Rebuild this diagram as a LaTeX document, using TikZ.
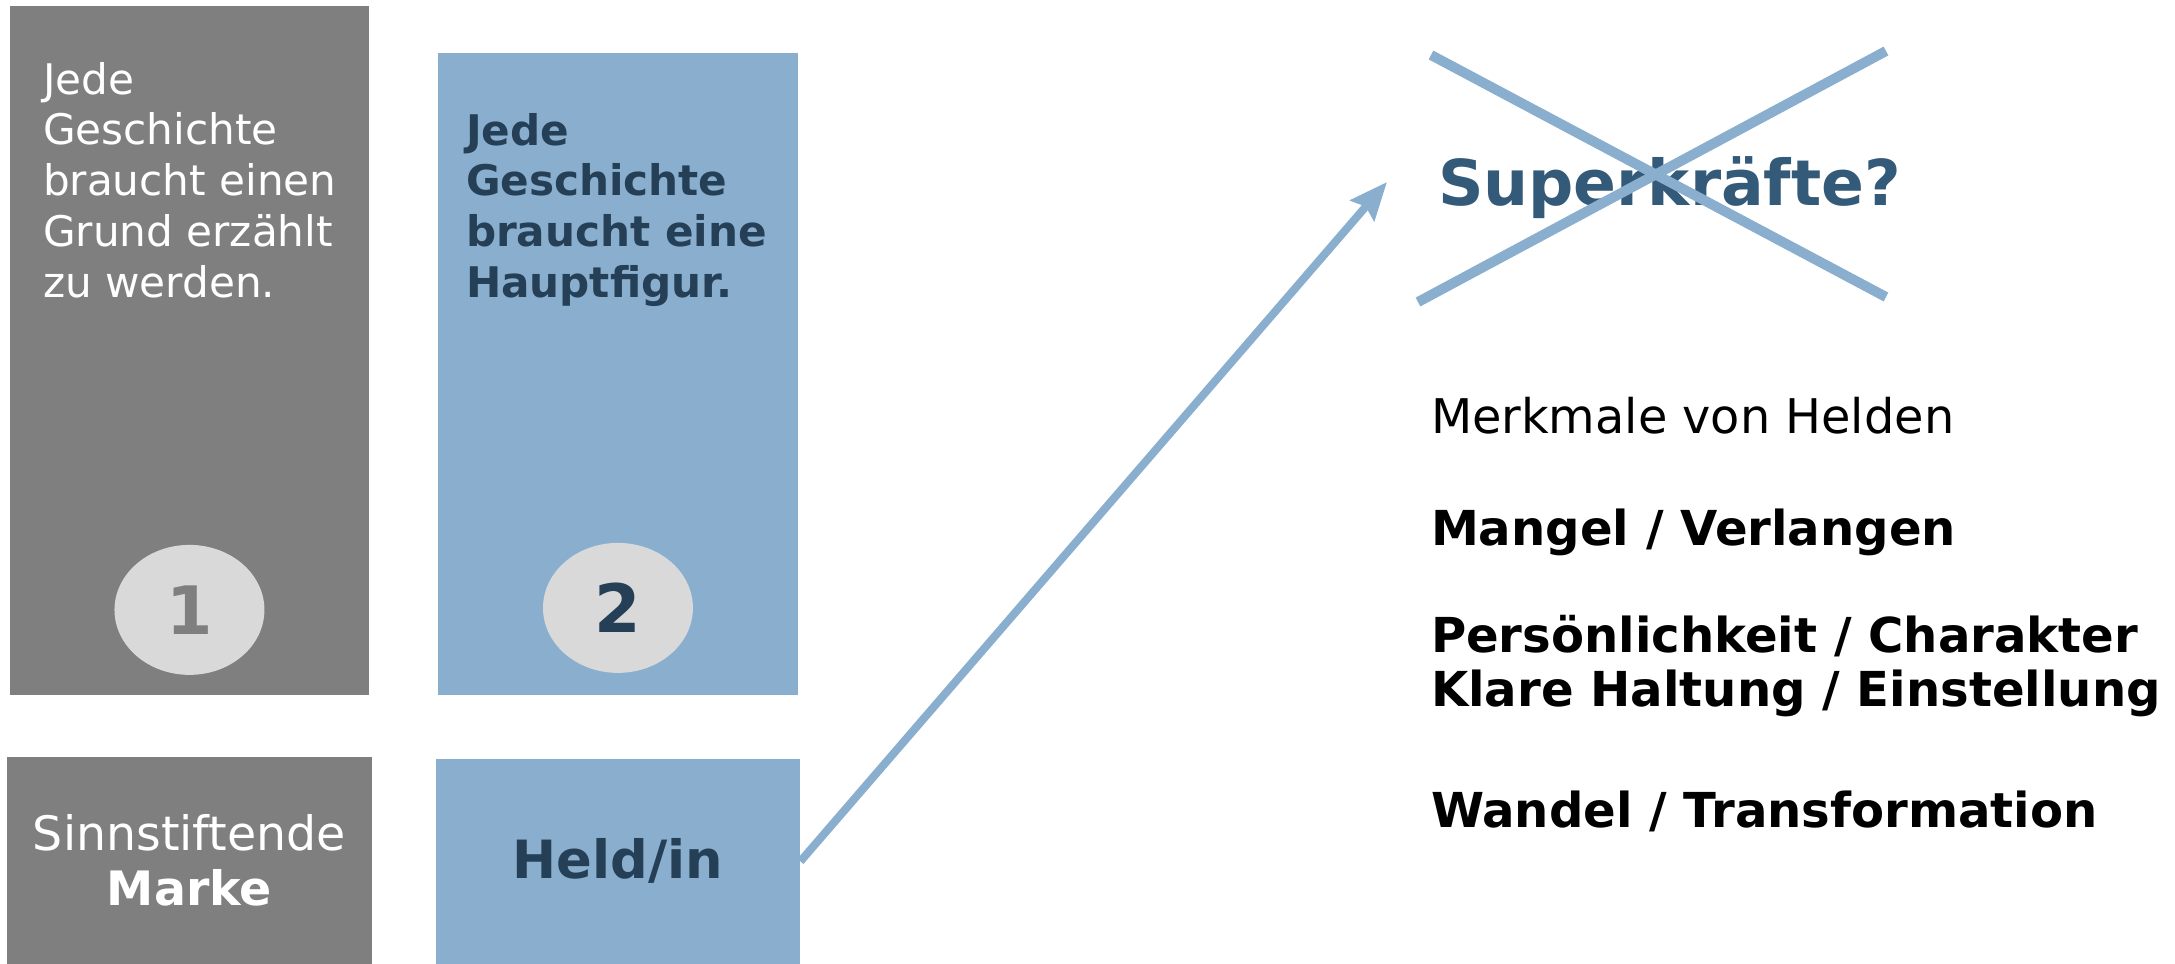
\documentclass[tikz,border=0pt]{standalone}
\usepackage{fontspec}
\setmainfont{DejaVu Sans}
\usepackage{tikz}
\usetikzlibrary{positioning, shapes.geometric, arrows.meta}

\definecolor{boxgray}{HTML}{7F7F7F}
\definecolor{boxblue}{HTML}{8AAFCE}
\definecolor{circgray}{HTML}{D9D9D9}
\definecolor{textblue}{HTML}{243F56}
\definecolor{superblue}{HTML}{345A7A}

\begin{document}
\begin{tikzpicture}[x=0.02cm, y=-0.02cm, outer sep=0pt, inner sep=0pt,
  graybox/.style={fill=boxgray, text=white, align=center},
  bluebox/.style={fill=boxblue, text=textblue, align=center},
  numcirc/.style={ellipse, fill=circgray, minimum width=3cm, minimum height=2.6cm,
    font=\fontsize{38}{38}\selectfont\bfseries},
  boxtext/.style={anchor=north west, align=left},
  listtext/.style={anchor=base west, font=\fontsize{27.4}{31}\selectfont\bfseries},
  cross/.style={line width=0.2cm, color=boxblue}]
  \useasboundingbox (0,0) rectangle (2175,964);

  % upper boxes
  \node[graybox, anchor=north west, minimum width=7.18cm, minimum height=13.78cm] (grund) at (10,6) {};
  \node[bluebox, anchor=north west, minimum width=7.2cm, minimum height=12.84cm] (figur) at (438,53) {};
  \node[boxtext, text=white, font=\fontsize{24}{29}\selectfont] (grundtxt) at (43,62)
    {Jede\\Geschichte\\braucht einen\\Grund erzählt\\zu werden.};
  \node[boxtext, text=textblue, font=\fontsize{24}{29}\selectfont\bfseries] (figurtxt) at (466,113)
    {Jede\\Geschichte\\braucht eine\\Hauptfigur.};
  \node[numcirc, text=boxgray, above=0.4cm of grund.south] (num1) {1};
  \node[numcirc, text=textblue, above=0.44cm of figur.south] (num2) {2};

  % lower boxes
  \node[graybox, below=1.24cm of grund, minimum width=7.3cm, minimum height=4.14cm,
    font=\fontsize{27}{31}\selectfont] (marke) {Sinnstiftende\\\textbf{Marke}};
  \node[bluebox, below=1.28cm of figur, minimum width=7.3cm, minimum height=4.1cm,
    font=\fontsize{30}{36}\selectfont\bfseries] (held) {Held/in};

  % crossed out
  \node[anchor=base west, text=superblue, font=\fontsize{36}{36}\selectfont\bfseries] (super) at (1438,205) {Superkräfte?};
  \draw[cross] (1431,55) -- (1886,297);
  \draw[cross] (1418,302) -- (1886,51);

  \node[listtext, font=\fontsize{27.2}{31}\selectfont] (merk) at (1431,433) {Merkmale von Helden};
  \node[listtext] (mangel) at (1431,545) {Mangel / Verlangen};
  \node[listtext] (pers) at (1431,652) {Persönlichkeit / Charakter};
  \node[listtext] (klare) at (1431,706) {Klare Haltung / Einstellung};
  \node[listtext] (wandel) at (1431,827) {Wandel / Transformation};

  \coordinate (tip) at (1387,182);
  \draw[line width=0.16cm, boxblue, -{Stealth[length=0.75cm, width=0.62cm, inset=0.1cm]}] (held.east) -- (tip);
\end{tikzpicture}
\end{document}
